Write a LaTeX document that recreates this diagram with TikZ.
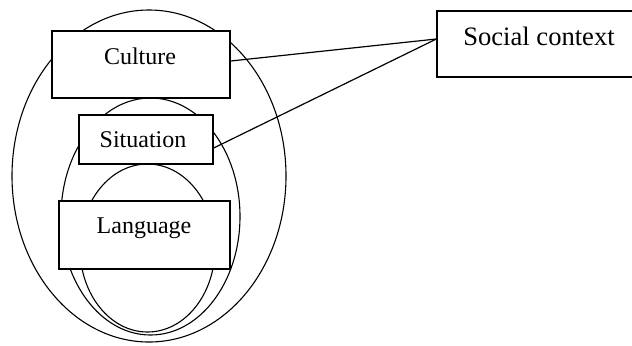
\documentclass[tikz,border=0pt]{standalone}
\usepackage{fontspec}
\setmainfont{Liberation Serif}
\begin{document}
\begin{tikzpicture}[x=0.5pt,y=-0.5pt,
  ring/.style={draw=black,line width=0.55pt},
  boxnode/.style={draw=black,fill=white,line width=0.65pt,inner sep=0pt},
  lbl/.style={inner sep=0pt,font=\fontsize{12}{14}\selectfont},
  biglbl/.style={inner sep=0pt,font=\fontsize{13.3}{16}\selectfont},
  link/.style={draw=black,line width=0.6pt}]
\useasboundingbox (0,0) rectangle (632,345);
\clip (0,0) rectangle (632,345);
% nested ellipses
\draw[ring] (149,176) ellipse [x radius=68.5pt, y radius=83pt];
\draw[ring] (150.5,216.5) ellipse [x radius=44.75pt, y radius=59.25pt];
\draw[ring] (147.5,248) ellipse [x radius=33.75pt, y radius=42pt];
% boxes
\node[boxnode, minimum width=89pt, minimum height=33.5pt] (culture) at (141,64.5) {};
\node[lbl, anchor=base] (culturetxt) at (140,64) {Culture};
\node[boxnode, minimum width=67pt, minimum height=24.5pt] (situation) at (146,139.5) {};
\node[lbl, anchor=base] (situationtxt) at (143,147.5) {Situation};
\node[boxnode, minimum width=85.5pt, minimum height=34pt] (language) at (144.5,235) {};
\node[lbl, anchor=base] (languagetxt) at (144,233) {Language};
\node[boxnode, minimum width=102pt, minimum height=33pt] (social) at (539,44) {};
\node[biglbl, anchor=base] (socialtxt) at (539,45.5) {Social context};
% connectors
\coordinate (scin) at ([yshift=2.5pt]social.west);
\coordinate (cuout) at ([yshift=1.75pt]culture.east);
\coordinate (siout) at ([yshift=-4.25pt]situation.east);
\draw[link] (cuout) -- (scin);
\draw[link] (siout) -- (scin);
\end{tikzpicture}
\end{document}
